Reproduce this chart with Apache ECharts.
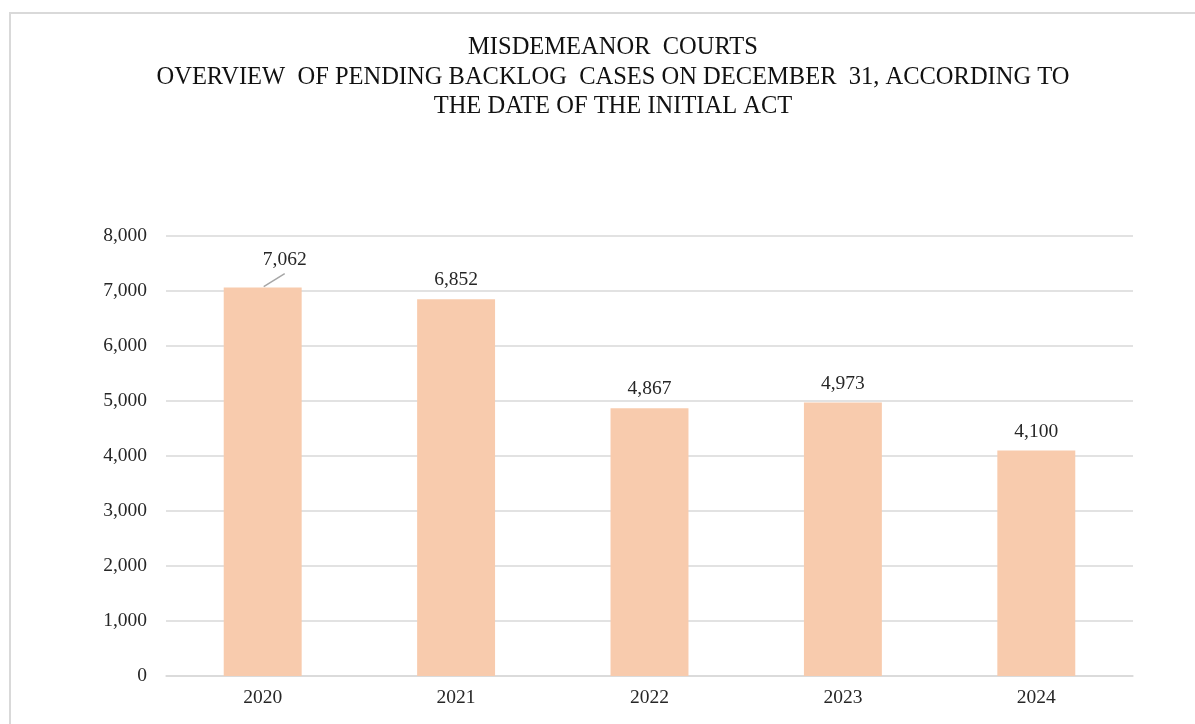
<!DOCTYPE html>
<html>
<head>
<meta charset="utf-8">
<script src="https://cdn.jsdelivr.net/npm/echarts@6/dist/echarts.min.js"></script>
<style>html,body{margin:0;padding:0;background:#fff}#c{width:1195px;height:724px}</style>
</head>
<body>
<div id="c"></div>
<script>
var categories = ['2020', '2021', '2022', '2023', '2024'];
var pendingCases = [7062, 6852, 4867, 4973, 4100];
var titleLines = ['MISDEMEANOR  COURTS', 'OVERVIEW  OF PENDING BACKLOG  CASES ON DECEMBER  31, ACCORDING TO', 'THE DATE OF THE INITIAL ACT'];

var font = '"Liberation Serif", "Times New Roman", serif';
var chart = echarts.init(document.getElementById('c'));
var option = {
  animation: false,
  backgroundColor: '#fff',
  title: {
    text: titleLines.join('\n'),
    left: 608, top: 28, textAlign: 'center',
    textStyle: { fontFamily: font, fontSize: 24.5, fontWeight: 'normal', color: '#111', lineHeight: 29.5 }
  },
  grid: { left: 166, right: 62, top: 236, bottom: 48, containLabel: false },
  xAxis: {
    type: 'category', data: categories,
    axisLine: { lineStyle: { color: '#d9d9d9', width: 1.5 } },
    axisTick: { show: false },
    axisLabel: { fontFamily: font, fontSize: 19.5, color: '#262626', margin: 12 }
  },
  yAxis: {
    type: 'value', min: 0, max: 8000, interval: 1000,
    axisLine: { show: false }, axisTick: { show: false },
    splitLine: { lineStyle: { color: '#d9d9d9', width: 1.5 } },
    axisLabel: { fontFamily: font, fontSize: 19.5, color: '#262626', margin: 19,
      formatter: function (v) { return v.toLocaleString('en-US'); } }
  },
  series: [{
    type: 'bar', data: pendingCases.map(function (v, i) {
      var d = { value: v };
      if (i === 0) d.label = { offset: [22, -9] };
      return d;
    }),
    barWidth: '40.3%',
    itemStyle: { color: '#F8CBAD' },
    label: { show: true, position: 'top', distance: 9, fontFamily: font, fontSize: 19.5, color: '#262626',
      formatter: function (p) { return p.value.toLocaleString('en-US'); } }
  }],
  graphic: [{
    type: 'rect', shape: { x: 10, y: 13, width: 1300, height: 800 },
    style: { fill: 'none', stroke: '#d9d9d9', lineWidth: 2 }, silent: true, z: -1
  }]
};
chart.setOption(option);
var p = chart.convertToPixel({ seriesIndex: 0 }, [categories[0], pendingCases[0]]);
chart.setOption({ graphic: [option.graphic[0], {
  type: 'line', shape: { x1: p[0] + 1, y1: p[1] - 1, x2: p[0] + 22, y2: p[1] - 14 },
  style: { stroke: '#a6a6a6', lineWidth: 1.5 }, silent: true
}] });
</script>
</body>
</html>
